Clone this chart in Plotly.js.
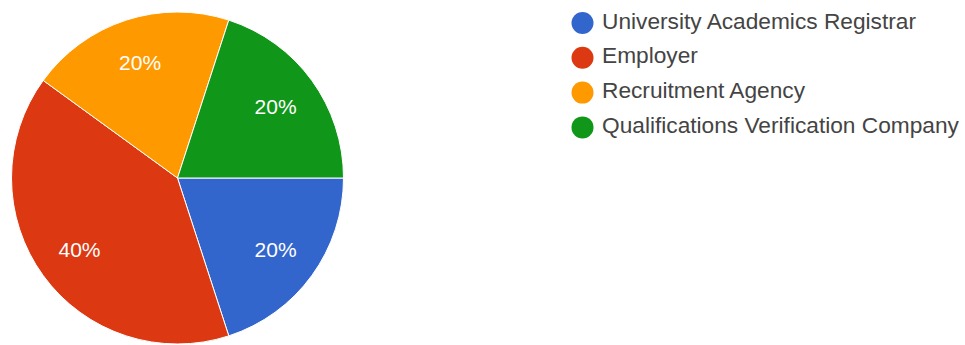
<!DOCTYPE html>
<html>
<head>
<meta charset="utf-8">
<script src="https://cdn.plot.ly/plotly-3.0.1.min.js"></script>
<style>html,body{margin:0;padding:0;background:#fff;}#chart{width:965px;height:345px;}</style>
</head>
<body>
<div id="chart"></div>
<script>
const categories = ["University Academics Registrar", "Employer", "Recruitment Agency", "Qualifications Verification Company"];
const values = [1, 2, 1, 1];
const colors = ["#3366cc", "#dc3912", "#ff9900", "#109618"];

const W = 965, H = 345;
const FONT = "Arial, 'Liberation Sans', sans-serif";
const pieDomain = {x: [11.5 / W, 343.5 / W], y: [1 / H, 333 / H]};

const pie = {
  type: "pie",
  labels: categories,
  values: values,
  sort: false,
  direction: "clockwise",
  rotation: 90,
  marker: {colors: colors, line: {color: "#ffffff", width: 1}},
  textinfo: "none",
  domain: pieDomain,
  showlegend: false,
  hoverinfo: "label+percent"
};

// transparent ring carrying the percent labels further out along each slice
const pieLabels = {
  type: "pie",
  labels: categories,
  values: values,
  sort: false,
  direction: "clockwise",
  rotation: 90,
  hole: 0.46,
  marker: {colors: categories.map(() => "rgba(0,0,0,0)"), line: {width: 0}},
  textinfo: "percent",
  textposition: "inside",
  insidetextorientation: "horizontal",
  insidetextfont: {color: "#ffffff", size: 21, family: FONT},
  domain: pieDomain,
  showlegend: false,
  hoverinfo: "skip"
};

// custom legend drawn as scatter on hidden axes
const legendIdx = categories.map((c, i) => i);
const legendMarkers = {
  type: "scatter",
  mode: "markers",
  x: categories.map(() => 0),
  y: legendIdx,
  marker: {color: colors, size: 22, line: {width: 0}},
  cliponaxis: false,
  showlegend: false,
  hoverinfo: "skip"
};
const legendText = {
  type: "scatter",
  mode: "text",
  x: categories.map(() => 0),
  y: legendIdx,
  xaxis: "x2",
  text: categories,
  textposition: "middle right",
  textfont: {color: "#444444", size: 22.7, family: FONT},
  cliponaxis: false,
  showlegend: false,
  hoverinfo: "skip"
};

const layout = {
  width: W, height: H,
  margin: {l: 0, r: 0, t: 0, b: 0, pad: 0},
  paper_bgcolor: "#ffffff",
  plot_bgcolor: "rgba(0,0,0,0)",
  showlegend: false,
  xaxis: {domain: [0, 1], range: [-582.5, W - 582.5], visible: false, fixedrange: true},
  xaxis2: {domain: [0, 1], range: [-602, W - 602], visible: false, fixedrange: true, overlaying: "x"},
  yaxis: {domain: [0, 1], range: [(H - 23) / 34.8, -23 / 34.8], visible: false, fixedrange: true}
};

Plotly.newPlot("chart", [pie, pieLabels, legendMarkers, legendText], layout, {displayModeBar: false, staticPlot: true});
</script>
</body>
</html>
